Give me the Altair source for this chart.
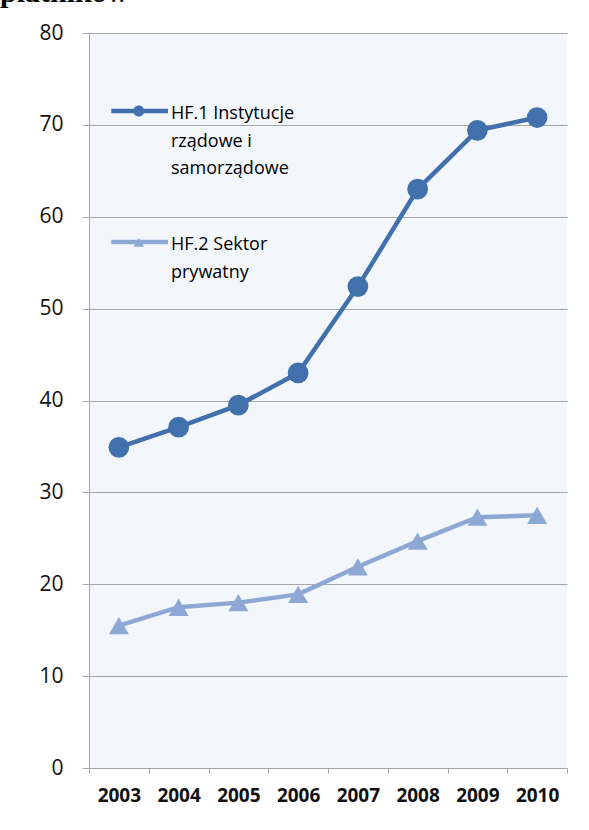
import altair as alt
import pandas as pd

# ---- data ----
years = ["2003", "2004", "2005", "2006", "2007", "2008", "2009", "2010"]
hf1_values = [34.9, 37.1, 39.5, 43.0, 52.4, 63.0, 69.4, 70.8]
hf2_values = [15.5, 17.5, 18.0, 18.9, 21.9, 24.7, 27.3, 27.5]
series_names = ["HF.1 Instytucje|rządowe i|samorządowe", "HF.2 Sektor|prywatny"]
series_colors = ["#4170ac", "#8ea8d5"]
series_markers = ["circle", "triangle-up"]
marker_sizes = [430, 400]
y_ticks = [0, 10, 20, 30, 40, 50, 60, 70, 80]
heading = "płatników"

# legend symbols: line segment + marker (custom unit paths, same winding)
legend_paths = [
    "M-5.4,0.7H4.9V1.5H-5.4Z M0.6,1.1A1,1 0 1 1 -1.4,1.1A1,1 0 1 1 0.6,1.1Z",
    "M-5.4,0.7H4.9V1.5H-5.4Z M-0.4,0.3L0.55,1.95L-1.35,1.95Z",
]

rows = []
for name, vals in zip(series_names, [hf1_values, hf2_values]):
    for yr, v in zip(years, vals):
        rows.append({"year": yr, "value": v, "series": name})
df = pd.DataFrame(rows)

axis_grey = "#a6a6a6"

x_enc = alt.X(
    "year:O",
    sort=years,
    scale=alt.Scale(type="band", paddingInner=0, paddingOuter=0),
    axis=alt.Axis(
        title=None, labelAngle=0, labelFont="Open Sans", labelFontSize=19,
        labelFontWeight="bold", labelColor="#111111", tickBand="extent",
        tickSize=5, tickColor=axis_grey, domainColor=axis_grey,
        labelPadding=13, grid=False,
    ),
)
y_enc = alt.Y(
    "value:Q",
    scale=alt.Scale(domain=[0, 80], nice=False, zero=True),
    axis=alt.Axis(
        title=None, values=y_ticks, labelFont="Open Sans", labelFontSize=21,
        labelColor="#111111", tickSize=7, tickColor=axis_grey,
        domainColor=axis_grey, gridColor=axis_grey, labelPadding=19, grid=True,
    ),
)

base = alt.Chart(df).encode(x=x_enc, y=y_enc)

layers = []
for name, col, shp, sz in zip(series_names, series_colors, series_markers, marker_sizes):
    sub = base.transform_filter(alt.datum.series == name)
    layers.append(sub.mark_line(strokeWidth=4.5, color=col))
    layers.append(sub.mark_point(shape=shp, filled=True, opacity=1, size=sz, color=col))

legend_props = dict(
    title=None, orient="none", legendX=43, legendY=63,
    labelExpr="split(datum.label, '|')", labelLimit=400,
    labelFont="Open Sans", labelFontSize=18, labelColor="#000000",
    labelBaseline="top", labelOffset=21, symbolSize=121,
    symbolStrokeWidth=0, symbolOpacity=1, rowPadding=49, padding=0,
)

# invisible points that only carry the legend (line + marker symbols)
legend_layer = base.mark_point(filled=True, size=0).encode(
    fill=alt.Fill("series:N", scale=alt.Scale(domain=series_names, range=series_colors),
                  legend=alt.Legend(**legend_props)),
    shape=alt.Shape("series:N", scale=alt.Scale(domain=series_names, range=legend_paths),
                    legend=alt.Legend(**legend_props)),
)
layers.append(legend_layer)

chart = (
    alt.layer(*layers)
    .properties(
        width=478,
        height=735,
        autosize=alt.AutoSizeParams(type="none"),
        padding={"left": 89, "top": 33, "right": 22, "bottom": 62},
        title=alt.TitleParams(
            text=heading, font="Liberation Serif", fontSize=30, fontWeight="bold",
            color="#000000", anchor="start", frame="group", baseline="alphabetic",
            offset=0, dx=-89, dy=10,
        ),
    )
    .configure(background="white", style={"guide-label": {"lineHeight": 27.5}})
    .configure_view(fill="#f3f7fc", stroke=None)
)

chart.save("out.html", embed_options={"renderer": "svg", "actions": False})
